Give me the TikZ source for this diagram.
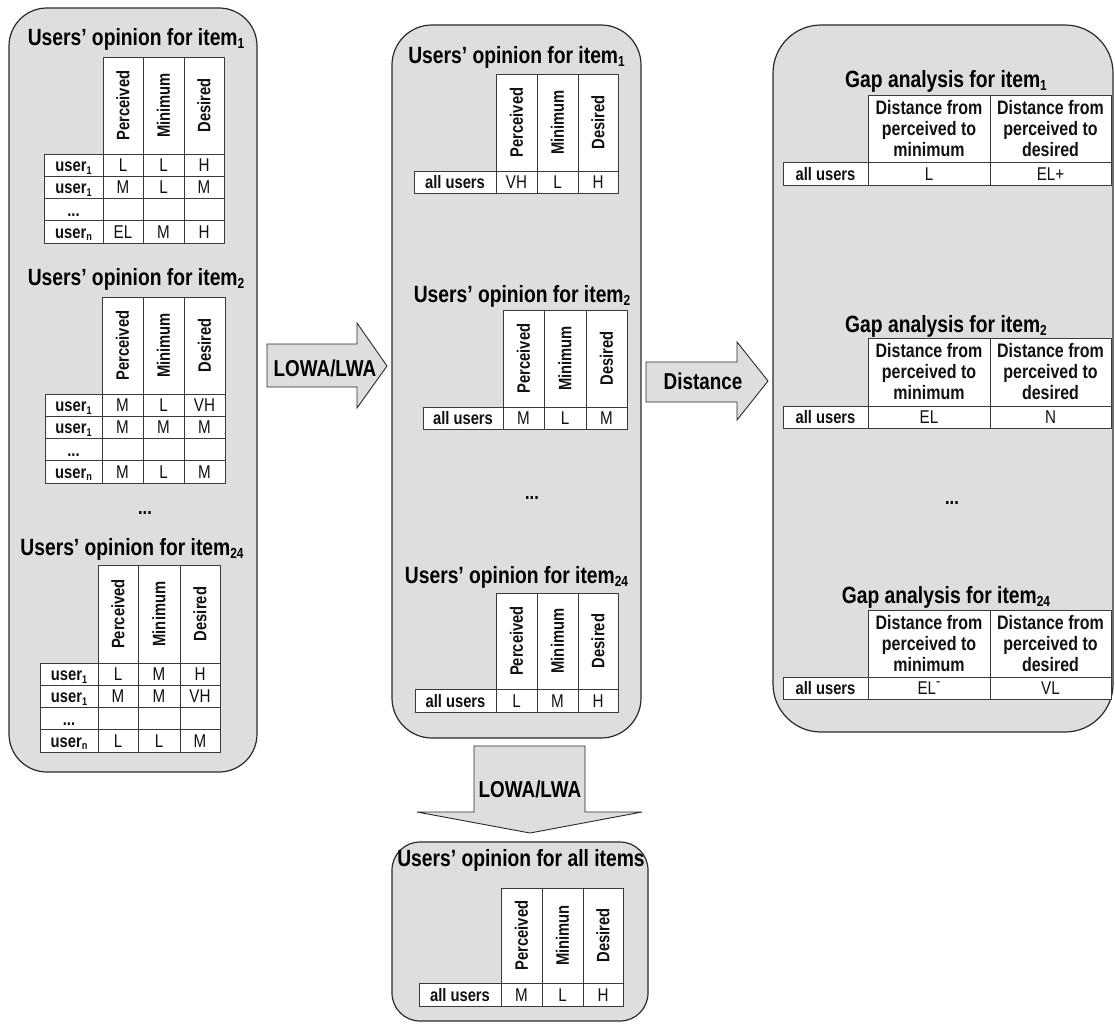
\documentclass[tikz,border=0pt]{standalone}
\usepackage{fontspec}
\setmainfont{Liberation Sans}[FakeStretch=0.82]
\usepackage{graphicx}
\definecolor{panelgray}{HTML}{DEDEDE}
\definecolor{edgecol}{HTML}{2A2A2A}
\definecolor{gridcol}{HTML}{3A3A3A}
\definecolor{txtcol}{HTML}{111111}
\newcommand{\lsub}[1]{\raisebox{-0.14em}{\scalebox{0.62}{#1}}}
\newcommand{\hsup}[1]{\raisebox{0.42em}{\scalebox{0.85}{#1}}}
\tikzset{
  panel/.style={draw=edgecol, line width=1.2pt, fill=panelgray, inner sep=0pt},
  cellbox/.style={draw=gridcol, line width=0.9pt, fill=white, inner sep=0pt, outer sep=0pt, anchor=center, text=txtcol},
  ttl/.style={font=\fontsize{23.5}{28}\selectfont\bfseries, anchor=base, inner sep=0pt},
  hdr/.style={font=\fontsize{18}{20}\selectfont\bfseries},
  lab/.style={font=\fontsize{18}{20}\selectfont\bfseries, text height=13pt, text depth=0pt},
  val/.style={font=\fontsize{18.5}{20}\selectfont, text height=13pt, text depth=0pt},
  gaphdr/.style={font=\fontsize{19.5}{21}\selectfont\bfseries, align=center},
  blockarrow/.style={draw=edgecol, line width=0.9pt, fill=panelgray, line join=miter},
  arrtxt/.style={font=\fontsize{23}{26}\selectfont\bfseries, anchor=base, inner sep=0pt},
  dotstxt/.style={font=\fontsize{20}{22}\selectfont\bfseries, inner sep=0pt}
}
% a table cell: [style]{name}{x0}{y0}{x1}{y1}{text}
\newcommand{\cell}[7][]{%
  \node[cellbox, minimum width={(#5-#3)*1pt}, minimum height={(#6-#4)*1pt}, #1] (#2) at ({(#3+#5)/2},{(#4+#6)/2}) {#7};}
\newcommand{\setcols}[5]{\def\xa{#1}\def\xb{#2}\def\xc{#3}\def\xd{#4}\def\xe{#5}}
% {name}{ytop}{yheaderbottom}{rowheight}{middle header}{rows}
\newcommand{\usertable}[6]{%
  \cell[hdr]{#1-h1}{\xb}{#2}{\xc}{#3}{\rotatebox{90}{Perceived}}
  \cell[hdr]{#1-h2}{\xc}{#2}{\xd}{#3}{\rotatebox{90}{#5}}
  \cell[hdr]{#1-h3}{\xd}{#2}{\xe}{#3}{\rotatebox{90}{Desired}}
  \foreach \lab/\va/\vb/\vc [count=\i] in {#6} {
    \pgfmathsetmacro\ya{#3+(\i-1)*#4}
    \pgfmathsetmacro\yb{#3+\i*#4}
    \cell[lab]{#1-r\i-0}{\xa}{\ya}{\xb}{\yb}{\lab}
    \cell[val]{#1-r\i-1}{\xb}{\ya}{\xc}{\yb}{\va}
    \cell[val]{#1-r\i-2}{\xc}{\ya}{\xd}{\yb}{\vb}
    \cell[val]{#1-r\i-3}{\xd}{\ya}{\xe}{\yb}{\vc}
  }}
% {name}{ytop}{yheaderbottom}{yrowbottom}{v1}{v2}
\newcommand{\gaptable}[6]{%
  \cell[gaphdr]{#1-h1}{868}{#2}{990}{#3}{Distance from\\perceived to\\minimum}
  \cell[gaphdr]{#1-h2}{990}{#2}{1111}{#3}{Distance from\\perceived to\\desired}
  \cell[lab]{#1-r0}{783}{#3}{868}{#4}{all users}
  \cell[val]{#1-r1}{868}{#3}{990}{#4}{#5}
  \cell[val]{#1-r2}{990}{#3}{1111}{#4}{#6}}
\begin{document}
\begin{tikzpicture}[x=1pt,y=-1pt]
\useasboundingbox (0,0) rectangle (1115,1023);
% panels
\node[panel, rounded corners=38pt, minimum width=248pt, minimum height=764pt] (Pleft) at (133,390) {};
\node[panel, rounded corners=40pt, minimum width=249pt, minimum height=713pt] (Pmid) at (516.5,381.5) {};
\node[panel, rounded corners=48pt, minimum width=340pt, minimum height=707pt] (Pright) at (943,378.5) {};
\node[panel, rounded corners=28pt, minimum width=256pt, minimum height=179pt] (Pbot) at (520,931.5) {};
% left panel
\node[ttl] (Lt1) at (136,45) {Users’ opinion for item\lsub{1}};
\setcols{44}{103}{143}{184}{224}
\usertable{LA}{57}{154}{22.25}{Minimum}{user\lsub{1}/L/L/H, user\lsub{1}/M/L/M, {...}/{}/{}/{}, user\lsub{n}/EL/M/H}
\node[ttl] (Lt2) at (136,285) {Users’ opinion for item\lsub{2}};
\setcols{45}{102}{143}{184}{225}
\usertable{LB}{297}{394}{22.25}{Minimum}{user\lsub{1}/M/L/VH, user\lsub{1}/M/M/M, {...}/{}/{}/{}, user\lsub{n}/M/L/M}
\node[dotstxt] (Ld) at (145,513) {...};
\node[ttl] (Lt3) at (132,555) {Users’ opinion for item\lsub{24}};
\setcols{40}{98}{138}{180}{220}
\usertable{LC}{565}{663}{22.25}{Minimum}{user\lsub{1}/L/M/H, user\lsub{1}/M/M/VH, {...}/{}/{}/{}, user\lsub{n}/L/L/M}
% middle panel
\node[ttl] (Mt1) at (516.5,63) {Users’ opinion for item\lsub{1}};
\setcols{414}{496}{537}{578}{618}
\usertable{MA}{74}{171}{22}{Minimum}{all users/VH/L/H}
\node[ttl] (Mt2) at (522,302) {Users’ opinion for item\lsub{2}};
\setcols{423}{503}{544}{586}{627}
\usertable{MB}{310}{407}{22}{Minimum}{all users/M/L/M}
\node[dotstxt] (Md) at (532,498) {...};
\node[ttl] (Mt3) at (516.5,583) {Users’ opinion for item\lsub{24}};
\setcols{415}{496}{537}{578}{618}
\usertable{MC}{593}{689}{23}{Minimum}{all users/L/M/H}
% bottom panel
\node[ttl] (Bt) at (521,866) {Users’ opinion for all items};
\setcols{419}{501}{542}{583}{623}
\usertable{BA}{888}{983}{23}{Minimun}{all users/M/L/H}
% right panel
\node[ttl] (Rt1) at (946,87) {Gap analysis for item\lsub{1}};
\gaptable{RA}{95}{162}{185}{L}{EL+}
\node[ttl] (Rt2) at (946,332) {Gap analysis for item\lsub{2}};
\gaptable{RB}{338}{406}{428}{EL}{N}
\node[dotstxt] (Rd) at (952,503) {...};
\node[ttl] (Rt3) at (946,603) {Gap analysis for item\lsub{24}};
\gaptable{RC}{610}{677}{699}{EL\hsup{-}}{VL}
% block arrows
\draw[blockarrow] (267,344) -- (357,344) -- (357,323) -- (387,366) -- (357,408) -- (357,387) -- (267,387) -- cycle;
\node[arrtxt] (A1) at (325,376) {LOWA/LWA};
\draw[blockarrow] (646,362) -- (737,362) -- (737,342) -- (768,381) -- (737,420) -- (737,402) -- (646,402) -- cycle;
\node[arrtxt] (A2) at (703,389) {Distance};
\draw[blockarrow] (474,746) -- (585,746) -- (585,812) -- (642,812) -- (530,833) -- (417,812) -- (474,812) -- cycle;
\node[arrtxt] (A3) at (530,797) {LOWA/LWA};
\end{tikzpicture}
\end{document}
